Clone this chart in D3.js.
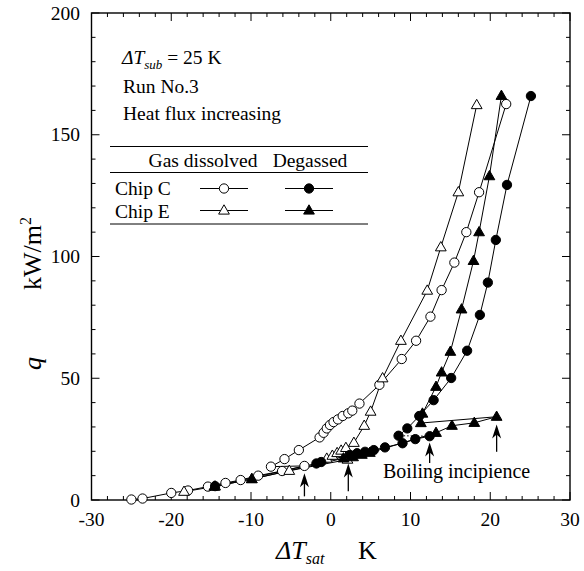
<!DOCTYPE html>
<html><head><meta charset="utf-8">
<script src="https://cdn.jsdelivr.net/npm/d3@7"></script>
<style>body{margin:0;background:#fff}svg{display:block}text{font-family:"Liberation Serif","Times New Roman",serif;fill:#000}</style>
</head><body><svg id="c" width="584" height="571"></svg>
<script>
// ---- data ----
const xTicks = [-30, -20, -10, 0, 10, 20, 30];
const yTicks = [0, 50, 100, 150, 200];
// Chip C, gas dissolved (open circles)
const chipCGasLower = [[-25.0,0.2],[-23.6,0.6],[-20.0,2.9],[-17.9,3.9],[-15.4,5.5],[-13.2,7.0],[-11.3,8.2],[-9.1,10.0],[-6.1,11.9],[-3.3,14.0]];
const chipCGasUpper = [[-7.5,13.7],[-5.8,16.8],[-4.0,20.5],[-1.4,25.7],[-0.9,27.6],[-0.5,29.4],[-0.1,30.8],[0.35,32.0],[0.9,33.1],[1.5,34.5],[2.2,35.6],[2.7,36.7],[3.6,39.6],[6.1,47.3],[8.9,57.9],[10.7,65.4],[12.5,75.3],[13.9,86.2],[15.5,97.5],[17.0,110.0],[18.6,126.4],[22.0,162.6]];
// Chip E, gas dissolved (open triangles)
const chipEGasLower = [[-18.4,3.4],[-14.5,5.6],[-9.9,8.6],[-5.2,12.0],[2.1,16.6]];
const chipEGasUpper = [[-0.5,17.0],[0.2,18.2],[0.8,19.3],[1.3,20.3],[1.9,21.4],[2.9,23.5],[4.2,30.5],[5.0,36.3],[6.5,50.0],[8.8,65.4],[12.1,86.0],[13.8,103.8],[16.0,126.4],[18.3,162.2]];
// Chip C, degassed (filled circles)
const chipCDegLower = [[-14.5,5.7],[-1.8,15.0],[-1.2,15.6],[2.4,18.5],[3.3,19.2],[4.3,19.8],[5.4,20.5],[6.8,21.6],[9.0,23.3],[10.6,25.0],[12.4,26.2]];
const chipCDegUpper = [[8.5,26.4],[9.6,29.4],[11.1,34.5],[12.9,41.0],[15.1,50.1],[17.1,61.3],[18.7,76.0],[19.7,89.3],[20.7,106.8],[22.1,129.4],[25.1,165.9]];
// Chip E, degassed (filled triangles)
const chipEDegLower = [[-14.6,5.5],[-9.9,8.6],[1.6,17.1],[2.8,17.6],[3.9,18.6],[4.9,19.4],[13.2,27.6],[15.2,30.5],[18.0,31.7],[20.8,34.2]];
const chipEDegUpper = [[11.3,31.6],[11.5,35.5],[13.2,46.5],[13.9,52.4],[15.0,60.9],[16.4,78.3],[17.9,98.2],[18.6,110.0],[19.9,133.0],[21.4,166.0]];
// boiling incipience arrows: [dT, q bottom, q tip]
const arrows = [[-3.3,1.5,11.0],[2.2,3.6,15.0],[12.4,15.2,23.6],[20.8,19.8,31.0]];

// ---- layout ----
const svg = d3.select("#c");
const L = 91.5, R = 570, T = 13, B = 500;
const FS = 19.5;
const x = d3.scaleLinear().domain([-30, 30]).range([L, R]);
const y = d3.scaleLinear().domain([0, 200]).range([B, T]);

// frame
svg.append("rect").attr("x", L).attr("y", T).attr("width", R - L).attr("height", B - T)
  .attr("fill", "none").attr("stroke", "#000").attr("stroke-width", 1.4);

// ticks (inward, all four sides)
const g = svg.append("g").attr("stroke", "#000").attr("stroke-width", 1);
d3.range(-30, 30.01, 2).forEach(v => {
  const major = Math.abs(v % 10) < 1e-9;
  const len = major ? 8 : 4;
  const px = x(v);
  g.append("line").attr("x1", px).attr("x2", px).attr("y1", B).attr("y2", B - len);
  g.append("line").attr("x1", px).attr("x2", px).attr("y1", T).attr("y2", T + len);
});
d3.range(0, 200.01, 10).forEach(v => {
  const major = v % 50 === 0;
  const len = major ? 8 : 4;
  const py = y(v);
  g.append("line").attr("x1", L).attr("x2", L + len).attr("y1", py).attr("y2", py);
  g.append("line").attr("x1", R).attr("x2", R - len).attr("y1", py).attr("y2", py);
});
// tick labels
xTicks.forEach(v => svg.append("text").attr("x", x(v)).attr("y", 526).attr("text-anchor", "middle")
  .attr("font-size", FS).text(v));
yTicks.forEach(v => svg.append("text").attr("x", 80).attr("y", y(v) + 6.5).attr("text-anchor", "end")
  .attr("font-size", FS).text(v));

// axis titles
const xt = svg.append("text").attr("x", 276).attr("y", 559).attr("font-size", 26);
xt.append("tspan").attr("font-style", "italic").text("ΔT");
xt.append("tspan").attr("font-style", "italic").attr("font-size", 16).attr("dy", 5).text("sat");
xt.append("tspan").attr("x", 358).attr("dy", -5).text("K");
const yt = svg.append("text").attr("transform", "translate(41,370) rotate(-90)").attr("font-size", 26);
yt.append("tspan").attr("font-style", "italic").text("q");
yt.append("tspan").attr("x", 80).text("kW/m");
yt.append("tspan").attr("font-size", 16).attr("dy", -10).text("2");

// lines
const line = d3.line().x(d => x(d[0])).y(d => y(d[1]));
const plot = svg.append("g");
function drawLine(pts, dash) {
  plot.append("path").attr("d", line(pts)).attr("fill", "none").attr("stroke", "#000")
    .attr("stroke-width", 1).attr("stroke-dasharray", dash || null);
}
const series = [
  {lower: chipCGasLower, upper: chipCGasUpper, shape: "circle", fill: "#fff", jumpDash: null},
  {lower: chipEGasLower, upper: chipEGasUpper, shape: "triangle", fill: "#fff", jumpDash: null},
  {lower: chipCDegLower, upper: chipCDegUpper, shape: "circle", fill: "#000", jumpDash: "1.5,2"},
  {lower: chipEDegLower, upper: chipEDegUpper, shape: "triangle", fill: "#000", jumpDash: null}
];
series.forEach(s => {
  drawLine(s.lower);
  drawLine(s.upper);
  drawLine([s.lower[s.lower.length - 1], s.upper[0]], s.jumpDash);
});
const sym = {circle: d3.symbol(d3.symbolCircle, 68)(), triangle: d3.symbol(d3.symbolTriangle, 50)()};
function marker(gr, px, py, shape, fill) {
  gr.append("path").attr("d", sym[shape]).attr("transform", `translate(${px},${py + (shape === "triangle" ? 0.5 : 0)})`)
    .attr("fill", fill).attr("stroke", "#000").attr("stroke-width", 1);
}
series.forEach(s => {
  s.lower.concat(s.upper).forEach(d => marker(plot, x(d[0]), y(d[1]), s.shape, s.fill));
});

// arrows
arrows.forEach(a => {
  const px = x(a[0]), yb = y(a[1]), yt2 = y(a[2]);
  svg.append("line").attr("x1", px).attr("x2", px).attr("y1", yb).attr("y2", yt2 + 8)
    .attr("stroke", "#000").attr("stroke-width", 1.3);
  svg.append("path").attr("d", `M${px},${yt2} L${px - 4.5},${yt2 + 14} L${px},${yt2 + 10} L${px + 4.5},${yt2 + 14} Z`)
    .attr("fill", "#000");
});
svg.append("text").attr("x", 383).attr("y", 478).attr("font-size", 20).text("Boiling incipience");

// annotation text
const t1 = svg.append("text").attr("x", 122).attr("y", 64).attr("font-size", FS);
t1.append("tspan").attr("font-style", "italic").text("ΔT");
t1.append("tspan").attr("font-style", "italic").attr("font-size", 13).attr("dy", 5).text("sub");
t1.append("tspan").attr("dy", -5).text(" = 25 K");
svg.append("text").attr("x", 123).attr("y", 93).attr("font-size", FS).text("Run No.3");
svg.append("text").attr("x", 123).attr("y", 120).attr("font-size", FS).text("Heat flux increasing");

// legend table
const lg = svg.append("g");
[146.5, 172.5, 224].forEach(yy => lg.append("line").attr("x1", 110).attr("x2", 368)
  .attr("y1", yy).attr("y2", yy).attr("stroke", "#000").attr("stroke-width", 1));
lg.append("text").attr("x", 203).attr("y", 167).attr("text-anchor", "middle").attr("font-size", FS).text("Gas dissolved");
lg.append("text").attr("x", 310).attr("y", 167).attr("text-anchor", "middle").attr("font-size", FS).text("Degassed");
lg.append("text").attr("x", 115).attr("y", 195).attr("font-size", FS).text("Chip C");
lg.append("text").attr("x", 115).attr("y", 218).attr("font-size", FS).text("Chip E");
const legRows = [
  {yy: 188.5, shape: "circle", cols: [["#fff", 224], ["#000", 309]]},
  {yy: 210.5, shape: "triangle", cols: [["#fff", 224], ["#000", 309]]}
];
legRows.forEach(r => r.cols.forEach(c => {
  lg.append("line").attr("x1", c[1] - 24).attr("x2", c[1] + 24).attr("y1", r.yy).attr("y2", r.yy)
    .attr("stroke", "#000").attr("stroke-width", 1);
  marker(lg, c[1], r.yy, r.shape, c[0]);
}));
</script></body></html>
